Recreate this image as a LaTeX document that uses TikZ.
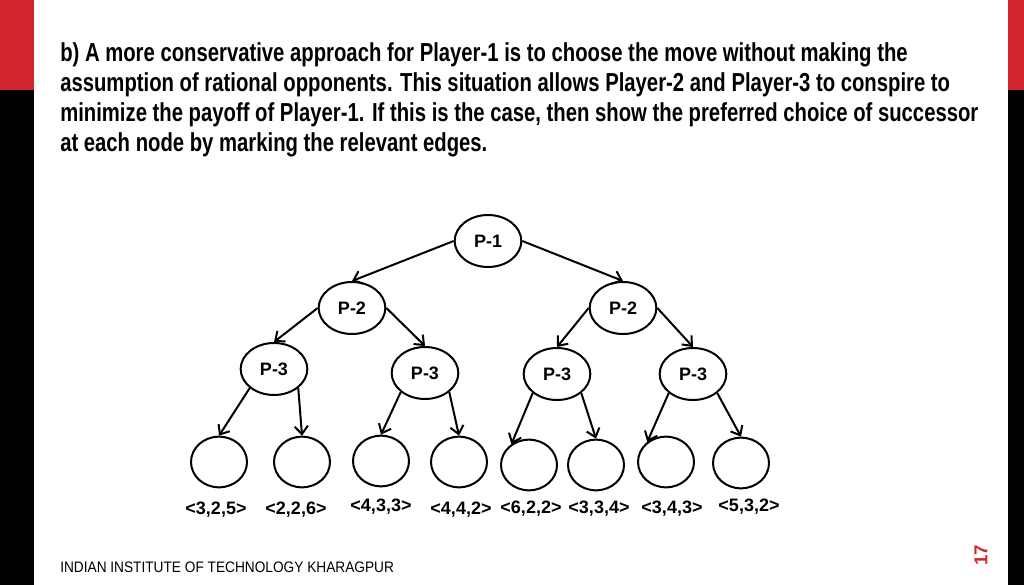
\documentclass[tikz,border=0pt]{standalone}
\usepackage{fontspec}
\setmainfont{Liberation Sans}
\newfontfamily\narrowfont[FakeStretch=0.78]{Liberation Sans}
\newfontfamily\footfont[FakeStretch=0.9]{Liberation Sans}
\usepackage{tikz}
\usetikzlibrary{shapes.geometric,arrows.meta}
\usepackage{xcolor}
\definecolor{myred}{HTML}{D2262E}

\tikzset{
  player/.style={ellipse, draw=black, line width=1.5pt, minimum width=50pt, minimum height=39pt, inner sep=0pt, font=\fontsize{13.5}{16}\selectfont\bfseries},
  leaf/.style={ellipse, draw=black, line width=1.5pt, minimum width=42pt, minimum height=38pt, inner sep=0pt},
  payoff/.style={font=\fontsize{13.5}{16}\selectfont\bfseries, inner sep=0pt},
  edge/.style={line width=1.5pt, -{Straight Barb[length=6pt,width=10pt]}}
}

\begin{document}
\begin{tikzpicture}[x=0.75pt, y=-0.75pt]
    \useasboundingbox (0, 0) rectangle (1024, 585);
    \fill[white] (0, 0) rectangle (1024, 585);
    % side bars
    \fill[myred] (0, 0) rectangle (34, 90);
    \fill[black] (0, 90) rectangle (34, 585);
    \fill[myred] (1008, 0) rectangle (1024, 90);
    \fill[black] (1008, 90) rectangle (1024, 585);
    % question text
    \node[anchor=north west, align=left, inner sep=0pt, font=\narrowfont\bfseries\fontsize{19.5}{22.5}\selectfont] (q) at (60, 42)
      {b) A more conservative approach for Player-1 is to choose the move without making the\\
       assumption of rational opponents. This situation allows Player-2 and Player-3 to conspire to\\
       minimize the payoff of Player-1. If this is the case, then show the preferred choice of successor\\
       at each node by marking the relevant edges.};
    % tree
    \node[player] (1) at (488, 241) {P-1};
    \node[player] (2) at (352, 308) {P-2};
    \node[player] (3) at (623, 308) {P-2};
    \node[player] (4) at (274, 369) {P-3};
    \node[player] (5) at (425, 373) {P-3};
    \node[player] (6) at (557, 374) {P-3};
    \node[player] (7) at (693, 374) {P-3};
    \node[leaf] (8) at (219, 462) {};
    \node[leaf] (9) at (302, 462) {};
    \node[leaf] (10) at (381, 461) {};
    \node[leaf] (11) at (459, 462) {};
    \node[leaf] (12) at (529, 465) {};
    \node[leaf] (13) at (596, 465) {};
    \node[leaf] (14) at (666, 462) {};
    \node[leaf] (15) at (741, 463) {};
    \draw[edge] (1.west) -- (2.north);
    \draw[edge] (1.east) -- (3.north);
    \draw[edge] (2.west) -- (4.north);
    \draw[edge] (2.east) -- (5.north);
    \draw[edge] (3.west) -- (6.north);
    \draw[edge] (3.east) -- (7.north);
    \draw[edge] (4.south west) -- (8.north);
    \draw[edge] (4.south east) -- (9.north);
    \draw[edge] (5.south west) -- (10.north);
    \draw[edge] (5.south east) -- (11.north);
    \draw[edge] (6.south west) -- (12.130);
    \draw[edge] (6.south east) -- (13.north);
    \draw[edge] (7.south west) -- (14.133);
    \draw[edge] (7.south east) -- (15.north);
    % payoffs
    \node[payoff] (16) at (216, 510) {<3,2,5>};
    \node[payoff] (17) at (296, 510) {<2,2,6>};
    \node[payoff] (18) at (381, 507) {<4,3,3>};
    \node[payoff] (19) at (461, 510) {<4,4,2>};
    \node[payoff] (20) at (531, 509) {<6,2,2>};
    \node[payoff] (21) at (599, 509) {<3,3,4>};
    \node[payoff] (22) at (672, 509) {<3,4,3>};
    \node[payoff] (23) at (749, 507) {<5,3,2>};
    % footer
    \node[anchor=west, inner sep=0pt, font=\footfont\fontsize{11.4}{13}\selectfont] (f) at (60, 567) {INDIAN INSTITUTE OF TECHNOLOGY KHARAGPUR};
    \node[rotate=90, text=myred, inner sep=0pt, font=\fontsize{14}{16}\selectfont\bfseries] (pg) at (981, 555) {17};
\end{tikzpicture}
\end{document}
